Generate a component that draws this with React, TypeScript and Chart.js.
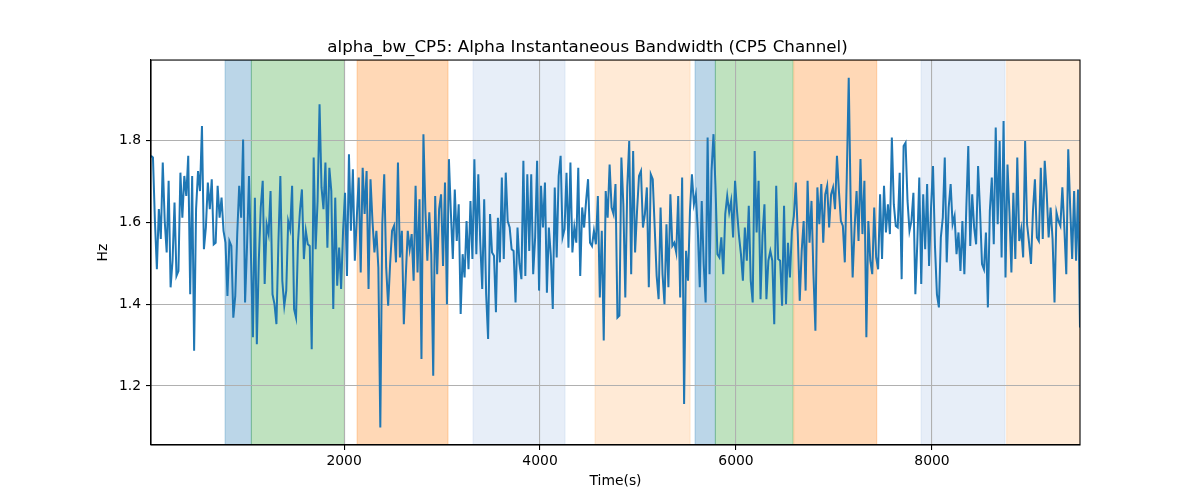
import { useEffect, useRef } from 'react';
import { Chart, registerables } from 'chart.js';

Chart.register(...registerables);

// samples every 20 s
const timeStart = 30;
const timeStep = 20;

const bandwidth = [
	// 30 .. 1210
	1.762, 1.758, 1.603, 1.485, 1.632, 1.559, 1.746, 1.603, 1.526, 1.701,
	1.441, 1.506, 1.648, 1.469, 1.481, 1.721, 1.611, 1.713, 1.664, 1.762,
	1.424, 1.713, 1.286, 1.632, 1.725, 1.676, 1.835, 1.534, 1.587, 1.697,
	1.632, 1.705, 1.546, 1.55, 1.689, 1.611, 1.66, 1.579, 1.55, 1.42,
	1.554, 1.542, 1.367, 1.42, 1.571, 1.689, 1.611, 1.802, 1.404, 1.542,
	1.713, 1.522, 1.319, 1.66, 1.302, 1.506, 1.636, 1.701, 1.449, 1.595,
	// 1230 .. 2410
	1.571, 1.676, 1.424, 1.4, 1.351, 1.55, 1.713, 1.457, 1.396, 1.433,
	1.603, 1.583, 1.689, 1.388, 1.367, 1.55, 1.628, 1.68, 1.51, 1.579,
	1.546, 1.542, 1.29, 1.758, 1.534, 1.652, 1.888, 1.685, 1.632, 1.746,
	1.538, 1.733, 1.676, 1.388, 1.66, 1.445, 1.538, 1.437, 1.579, 1.672,
	1.469, 1.766, 1.579, 1.729, 1.506, 1.611, 1.709, 1.477, 1.733, 1.62,
	1.725, 1.437, 1.705, 1.603, 1.526, 1.579, 1.489, 1.099, 1.595, 1.717,
	// 2430 .. 3610
	1.489, 1.396, 1.498, 1.579, 1.591, 1.502, 1.746, 1.514, 1.579, 1.351,
	1.469, 1.579, 1.534, 1.571, 1.457, 1.689, 1.477, 1.656, 1.266, 1.815,
	1.628, 1.506, 1.624, 1.522, 1.225, 1.664, 1.473, 1.632, 1.668, 1.493,
	1.697, 1.4, 1.754, 1.624, 1.51, 1.68, 1.554, 1.644, 1.376, 1.522,
	1.465, 1.603, 1.485, 1.652, 1.51, 1.754, 1.522, 1.717, 1.55, 1.437,
	1.656, 1.424, 1.315, 1.62, 1.526, 1.518, 1.38, 1.611, 1.502, 1.709,
	// 3630 .. 4790
	1.51, 1.721, 1.603, 1.587, 1.534, 1.53, 1.404, 1.587, 1.498, 1.461,
	1.75, 1.469, 1.717, 1.53, 1.717, 1.473, 1.563, 1.75, 1.433, 1.689,
	1.587, 1.697, 1.428, 1.587, 1.518, 1.388, 1.685, 1.514, 1.713, 1.762,
	1.563, 1.583, 1.721, 1.538, 1.746, 1.526, 1.587, 1.55, 1.733, 1.469,
	1.636, 1.587, 1.652, 1.705, 1.55, 1.542, 1.579, 1.546, 1.664, 1.416,
	1.579, 1.311, 1.676, 1.611, 1.741, 1.636, 1.62, 1.693, 1.367,
	// 4810 .. 5990
	1.372, 1.758, 1.644, 1.416, 1.685, 1.798, 1.473, 1.774, 1.526, 1.628,
	1.713, 1.725, 1.587, 1.62, 1.685, 1.441, 1.717, 1.705, 1.587, 1.469,
	1.412, 1.636, 1.473, 1.4, 1.595, 1.441, 1.668, 1.542, 1.55, 1.526,
	1.664, 1.416, 1.709, 1.156, 1.53, 1.457, 1.628, 1.717, 1.644, 1.668,
	1.579, 1.441, 1.652, 1.498, 1.404, 1.807, 1.473, 1.725, 1.815, 1.689,
	1.522, 1.514, 1.563, 1.473, 1.62, 1.664, 1.624, 1.652, 1.563, 1.701,
	// 6010 .. 7190
	1.628, 1.567, 1.522, 1.457, 1.587, 1.506, 1.64, 1.457, 1.404, 1.774,
	1.575, 1.701, 1.412, 1.567, 1.644, 1.412, 1.506, 1.53, 1.506, 1.351,
	1.689, 1.51, 1.506, 1.396, 1.64, 1.4, 1.55, 1.465, 1.579, 1.615,
	1.697, 1.571, 1.408, 1.53, 1.603, 1.433, 1.701, 1.55, 1.652, 1.473,
	1.335, 1.685, 1.595, 1.693, 1.55, 1.668, 1.689, 1.587, 1.668, 1.685,
	1.632, 1.762, 1.676, 1.603, 1.591, 1.502, 1.709, 1.953, 1.644, 1.465,
	// 7210 .. 8370
	1.587, 1.676, 1.554, 1.754, 1.571, 1.701, 1.319, 1.603, 1.506, 1.473,
	1.636, 1.514, 1.485, 1.668, 1.51, 1.689, 1.575, 1.644, 1.571, 1.807,
	1.644, 1.591, 1.587, 1.721, 1.461, 1.786, 1.794, 1.652, 1.579, 1.603,
	1.672, 1.424, 1.55, 1.709, 1.449, 1.668, 1.534, 1.693, 1.493, 1.636,
	1.737, 1.542, 1.424, 1.392, 1.563, 1.611, 1.758, 1.502, 1.636, 1.693,
	1.595, 1.615, 1.522, 1.575, 1.481, 1.603, 1.473, 1.636, 1.786,
	// 8390 .. 9510
	1.542, 1.668, 1.587, 1.546, 1.737, 1.628, 1.498, 1.485, 1.575, 1.392,
	1.628, 1.709, 1.546, 1.831, 1.595, 1.798, 1.514, 1.847, 1.465, 1.741,
	1.624, 1.477, 1.672, 1.51, 1.758, 1.554, 1.583, 1.514, 1.798, 1.595,
	1.55, 1.498, 1.628, 1.705, 1.563, 1.554, 1.733, 1.559, 1.75, 1.672,
	1.563, 1.636, 1.559, 1.404, 1.624, 1.603, 1.591, 1.685, 1.587, 1.473,
	1.778, 1.636, 1.51, 1.676, 1.506, 1.68, 1.343,
];

const xTicks = [2000, 4000, 6000, 8000];
const yTicks = [1.2, 1.4, 1.6, 1.8];

// shaded intervals (seconds) and which kind each one is
const spanStarts = [786, 1054, 2133, 3316, 4561, 5582, 5789, 6589, 7888, 8762];
const spanEnds = [1054, 2003, 3061, 4255, 5531, 5789, 6582, 7436, 8745, 9510];
const spanKinds = ['blue', 'green', 'orange', 'lightBlue', 'lightOrange', 'blue', 'green', 'orange', 'lightBlue', 'lightOrange'];

const spanFill: Record<string, string> = {
	blue: 'rgba(31,119,180,0.3)',
	green: 'rgba(44,160,44,0.3)',
	orange: 'rgba(255,127,14,0.3)',
	lightBlue: 'rgba(174,199,232,0.3)',
	lightOrange: 'rgba(255,187,120,0.3)',
};

const FONT = "'DejaVu Sans', sans-serif";

const spansPlugin = {
	id: 'spans',
	beforeDraw(chart: any) {
		const { ctx, chartArea, scales } = chart;
		const x = scales.x;
		ctx.save();
		ctx.beginPath();
		ctx.rect(chartArea.left, chartArea.top, chartArea.right - chartArea.left, chartArea.bottom - chartArea.top);
		ctx.clip();
		spanStarts.forEach((s, i) => {
			const x0 = x.getPixelForValue(s);
			const x1 = x.getPixelForValue(spanEnds[i]);
			ctx.fillStyle = spanFill[spanKinds[i]];
			ctx.strokeStyle = spanFill[spanKinds[i]];
			ctx.lineWidth = 1;
			ctx.fillRect(x0, chartArea.top, x1 - x0, chartArea.bottom - chartArea.top);
			ctx.strokeRect(x0, chartArea.top, x1 - x0, chartArea.bottom - chartArea.top);
		});
		ctx.restore();
	},
	afterDraw(chart: any) {
		// matplotlib-style frame on all four sides
		const { ctx, chartArea } = chart;
		ctx.save();
		ctx.strokeStyle = '#000';
		ctx.lineWidth = 1.1;
		ctx.strokeRect(chartArea.left, chartArea.top, chartArea.right - chartArea.left, chartArea.bottom - chartArea.top);
		ctx.restore();
	},
};

const App = () => {
	const canvasRef = useRef<HTMLCanvasElement>(null);
	const chartRef = useRef<Chart | null>(null);

	useEffect(() => {
		document.body.style.margin = '0';
		if (!canvasRef.current) return;
		if (chartRef.current) chartRef.current.destroy();

		const points = bandwidth.map((v, i) => ({ x: timeStart + i * timeStep, y: v }));

		chartRef.current = new Chart(canvasRef.current, {
			type: 'line',
			data: {
				datasets: [
					{
						data: points,
						borderColor: '#1f77b4',
						borderWidth: 2,
						pointRadius: 0,
						tension: 0,
						fill: false,
					},
				],
			},
			options: {
				animation: false,
				responsive: false,
				layout: { padding: { left: 95, right: 120, top: 0, bottom: 10 } },
				plugins: {
					legend: { display: false },
					tooltip: { enabled: false },
					title: {
						display: true,
						text: 'alpha_bw_CP5: Alpha Instantaneous Bandwidth (CP5 Channel)',
						color: '#000',
						font: { family: FONT, size: 16.7, weight: 'normal' },
						padding: { top: 38, bottom: 2 },
					},
				},
				scales: {
					x: {
						type: 'linear',
						min: 30,
						max: 9510,
						afterBuildTicks: (scale: any) => {
							scale.ticks = xTicks.map((v) => ({ value: v }));
						},
						afterFit: (scale: any) => {
							scale.height = 45;
						},
						ticks: {
							color: '#000',
							font: { family: FONT, size: 13.9 },
							padding: 3,
							maxRotation: 0,
							callback: (v: any) => String(v),
						},
						grid: { color: '#b0b0b0', lineWidth: 1.1, tickLength: 5, tickColor: '#000', tickWidth: 1.1 },
						border: { color: '#000', width: 1.1 },
						title: {
							display: true,
							text: 'Time(s)',
							color: '#000',
							font: { family: FONT, size: 13.9 },
							padding: 0,
						},
					},
					y: {
						type: 'linear',
						min: 1.056,
						max: 1.996,
						afterBuildTicks: (scale: any) => {
							scale.ticks = yTicks.map((v) => ({ value: v }));
						},
						afterFit: (scale: any) => {
							scale.width = 56;
						},
						ticks: {
							color: '#000',
							font: { family: FONT, size: 13.9 },
							padding: 5,
							callback: (v: any) => Number(v).toFixed(1),
						},
						grid: { color: '#b0b0b0', lineWidth: 1.1, tickLength: 5, tickColor: '#000', tickWidth: 1.1 },
						border: { color: '#000', width: 1.1 },
						title: {
							display: true,
							text: 'Hz',
							color: '#000',
							font: { family: FONT, size: 13.9 },
							padding: 0,
						},
					},
				},
			},
			plugins: [spansPlugin],
		});

		return () => {
			if (chartRef.current) {
				chartRef.current.destroy();
				chartRef.current = null;
			}
		};
	}, []);

	return (
		<div style={{ width: 1200, height: 500, background: '#fff' }}>
			<canvas ref={canvasRef} width={1200} height={500} style={{ width: 1200, height: 500 }} />
		</div>
	);
};

export default App;
